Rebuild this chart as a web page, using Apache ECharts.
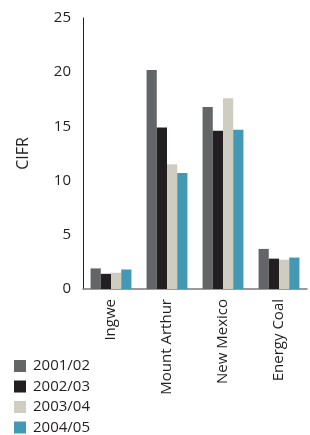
<!DOCTYPE html>
<html>
<head>
<meta charset="utf-8">
<script src="https://cdn.jsdelivr.net/npm/echarts@6/dist/echarts.min.js"></script>
<style>
  html, body { margin: 0; padding: 0; background: #fff; }
  #chart { width: 310px; height: 435px; }
</style>
</head>
<body>
<div id="chart"></div>
<script>
var categories = ["Ingwe", "Mount Arthur", "New Mexico", "Energy Coal"];
var seriesNames = ["2001/02", "2002/03", "2003/04", "2004/05"];
var v2001 = [1.9, 20.2, 16.8, 3.7];
var v2002 = [1.4, 14.9, 14.6, 2.8];
var v2003 = [1.5, 11.5, 17.6, 2.7];
var v2004 = [1.8, 10.7, 14.7, 2.9];
var colors = ["#646567", "#231f20", "#cfcdc0", "#4399b4"];

var chart = echarts.init(document.getElementById("chart"));
var allValues = [v2001, v2002, v2003, v2004];
var font = "Open Sans";

var option = {
    animation: false,
    color: colors,
    grid: { left: 83, right: 3, top: 18, bottom: 146, containLabel: false },
    legend: {
        orient: "vertical",
        left: 14,
        bottom: 0,
        padding: 0,
        itemWidth: 12,
        itemHeight: 12,
        itemGap: 5.5,
        icon: "rect",
        data: seriesNames,
        textStyle: { fontFamily: font, fontSize: 15, color: "#231f20", padding: [0, 0, 0, 2] }
    },
    xAxis: {
        type: "category",
        data: categories,
        axisLine: { lineStyle: { color: "#7a7a7a", width: 1.5 } },
        axisTick: { show: false },
        axisLabel: {
            rotate: 90,
            margin: 10,
            fontFamily: font,
            fontSize: 15,
            color: "#231f20"
        }
    },
    yAxis: {
        type: "value",
        min: 0,
        max: 25,
        interval: 5,
        name: "CIFR",
        nameLocation: "middle",
        nameGap: 52,
        nameRotate: 90,
        nameTextStyle: { fontFamily: font, fontSize: 16, color: "#231f20" },
        axisLine: { show: true, lineStyle: { color: "#231f20", width: 1 } },
        axisTick: { show: false },
        splitLine: { show: false },
        axisLabel: { fontFamily: font, fontSize: 15, color: "#231f20", margin: 12 }
    },
    series: seriesNames.map(function(name, i) {
        return {
            name: name,
            type: "bar",
            data: allValues[i],
            barGap: "0%",
            barCategoryGap: "27%"
        };
    })
};

chart.setOption(option);
</script>
</body>
</html>
